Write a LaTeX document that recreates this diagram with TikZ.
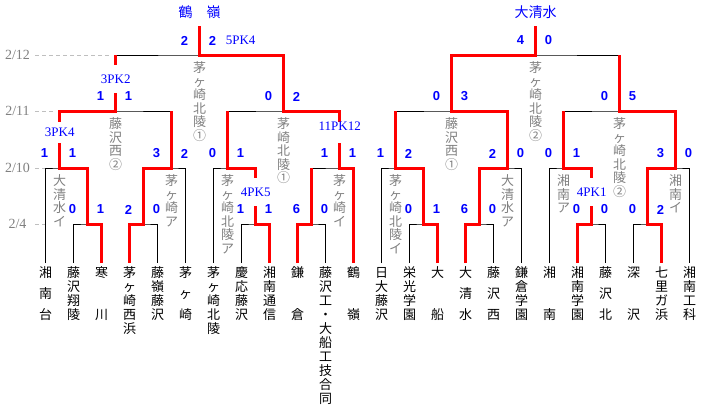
\documentclass[tikz,border=0pt]{standalone}
\usepackage{fontspec}
\setmainfont{Liberation Serif}
\newfontfamily\jpfont{Noto Sans CJK JP}
\newfontfamily\numfont{Liberation Sans}
\usetikzlibrary{calc}
\tikzset{
  lose/.style={black,line width=1pt},
  win/.style={red,line width=3pt},
  guide/.style={gray!50,line width=1pt,dash pattern=on 4pt off 3pt},
  datelabel/.style={text=gray,font=\fontsize{14}{14}\selectfont,inner sep=0pt},
  score/.style={text=blue,font=\numfont\bfseries\fontsize{13}{13}\selectfont,inner sep=0pt},
  pk/.style={text=blue,font=\fontsize{13}{13}\selectfont,fill=white,inner xsep=1pt,inner ysep=0pt},
  champ/.style={text=blue,font=\jpfont\fontsize{14}{14}\selectfont,inner sep=0pt},
  team/.style={font=\jpfont\fontsize{13}{13}\selectfont,inner sep=0pt,text height=10.4pt,text depth=1pt},
  venue/.style={team,text=gray}
}
\begin{document}
\begin{tikzpicture}[x=28pt,y=-1pt]
\useasboundingbox (-1.6321,0) rectangle (23.4036,410);
\foreach \i in {0,...,23} \coordinate (L\i) at (\i,263);
\foreach \n/\x in {0/1.5,1/3.5,2/7.5,3/9.5,4/13.5,5/15.5,6/19.5,7/21.5} \coordinate (A\n) at (\x,224);
\foreach \n/\x in {0/0.5,1/4.5,2/6.5,3/10.5,4/12.5,5/16.5,6/18.5,7/22.5} \coordinate (B\n) at (\x,168);
\foreach \n/\x in {0/2.5,1/8.5,2/14.5,3/20.5} \coordinate (C\n) at (\x,111);
\foreach \n/\x in {0/5.5,1/17.5} {
  \coordinate (D\n) at (\x,55);
  \coordinate (T\n) at (\x,26);
}
\foreach \d/\y in {12/55,11/111,10/168,4/224} \node[datelabel] (d\d) at (-1.007,\y) {2/\d};
\draw[guide] ($(d12)+(17.5pt,0)$) -- ($(C0 |- D0)+(-4pt,0)$);
\draw[guide] ($(d11)+(17.5pt,0)$) -- ($(B0 |- C0)+(-4pt,0)$);
\draw[guide] ($(d10)+(17.5pt,0)$) -- (L0 |- B0);
\draw[guide] ($(d4)+(17.5pt,0)$) -- (L0 |- A0);
\foreach \a/\j/\b in {L1/A0/L2,L3/A1/L4,L7/A2/L8,L9/A3/L10,L13/A4/L14,L15/A5/L16,L19/A6/L20,L21/A7/L22,
  L0/B0/A0,A1/B1/L5,L6/B2/A2,A3/B3/L11,L12/B4/A4,A5/B5/L17,L18/B6/A6,A7/B7/L23,
  B0/C0/B1,B2/C1/B3,B4/C2/B5,B6/C3/B7,C0/D0/C1,C2/D1/C3}
  \draw[lose] (\a) |- (\j) -| (\b);
\draw[win] (L2) |- (A0) |- (B0) |- (C0) -- (C0 |- D0);
\draw[win] (L3) |- (A1) |- (B1) -- (B1 |- C0);
\draw[win] (L8) |- (A2) |- (B2) -- (B2 |- C1);
\draw[win] (L9) |- (A3) -- (A3 |- B3);
\draw[win] (L11) |- (B3) |- (C1) |- (D0) -- (T0);
\draw[win] (L14) |- (A4) |- (B4) -- (B4 |- C2);
\draw[win] (L15) |- (A5) |- (B5) |- (C2) |- (D1) -- (T1);
\draw[win] (L19) |- (A6) |- (B6) -- (B6 |- C3);
\draw[win] (L22) |- (A7) |- (B7) |- (C3) -- (C3 |- D1);
\foreach \j/\t/\dy/\h in {B0/3PK4/36/21,C0/3PK2/32/28,A2/4PK5/32/28,A6/4PK1/32/28}
  \node[pk,minimum height=\h pt] (pk\j) at ($(\j)+(0,-\dy)$) {\t};
\node[pk,text depth=12pt,minimum height=21pt] (pkB3) at ($(B3)+(0,-36)$) {11PK12};
\foreach \j/\p/\q in {A0/0/1,A1/2/0,A2/1/1,A3/6/0,A4/0/1,A5/6/0,A6/0/0,A7/0/2,
  B0/1/1,B1/3/2,B2/0/1,B3/1/1,B4/1/2,B5/2/0,B6/0/1,B7/3/0,
  C0/1/1,C1/0/2,C2/0/3,C3/0/5,D0/2/2,D1/4/0} {
  \node[score] (\j-l) at ($(\j)+(-0.54,-14.5)$) {\p};
  \node[score] (\j-r) at ($(\j)+(0.46,-14.5)$) {\q};
}
\node[pk,fill=none] (pkD0) at ($(D0-r)+(1,0)$) {5PK4};
\node[champ] (w0) at ($(T0)+(0,-14)$) {鶴　嶺};
\node[champ] (w1) at ($(T1)+(0,-14)$) {大清水};
\foreach \v/\w in {B0/{大,清,水,イ},B1/{茅,ヶ,崎,ア},B2/{茅,ヶ,崎,北,陵,ア},B3/{茅,ヶ,崎,イ},
  B4/{茅,ヶ,崎,北,陵,イ},B5/{大,清,水,ア},B6/{湘,南,ア},B7/{湘,南,イ},
  C0/{藤,沢,西,②},C1/{茅,崎,北,陵,①},C2/{藤,沢,西,①},C3/{茅,ヶ,崎,北,陵,②},
  D0/{茅,ヶ,崎,北,陵,①},D1/{茅,ヶ,崎,北,陵,②}}
  \foreach \c [count=\k from 0] in \w
    \node[venue] (\v-\k) at ($(\v)+(0,13+13.5*\k)$) {\c};
\foreach \i/\w in {0/{0/湘,1.5/南,3/台},1/{0/藤,1/沢,2/翔,3/陵},2/{0/寒,3/川},
  3/{0/茅,1/ヶ,2/崎,3/西,4/浜},4/{0/藤,1/嶺,2/藤,3/沢},5/{0/茅,1.5/ヶ,3/崎},
  6/{0/茅,1/ヶ,2/崎,3/北,4/陵},7/{0/慶,1/応,2/藤,3/沢},8/{0/湘,1/南,2/通,3/信},
  9/{0/鎌,3/倉},10/{0/藤,1/沢,2/工,3/・,4/大,5/船,6/工,7/技,8/合,9/同},11/{0/鶴,3/嶺},
  12/{0/日,1/大,2/藤,3/沢},13/{0/栄,1/光,2/学,3/園},14/{0/大,3/船},
  15/{0/大,1.5/清,3/水},16/{0/藤,1.5/沢,3/西},17/{0/鎌,1/倉,2/学,3/園},
  18/{0/湘,3/南},19/{0/湘,1/南,2/学,3/園},20/{0/藤,1.5/沢,3/北},
  21/{0/深,3/沢},22/{0/七,1/里,2/ガ,3/浜},23/{0/湘,1/南,2/工,3/科}}
  \foreach \r/\c [count=\k] in \w
    \node[team] (t\i-\k) at ($(L\i)+(0,9.5+14*\r)$) {\c};
\end{tikzpicture}
\end{document}
